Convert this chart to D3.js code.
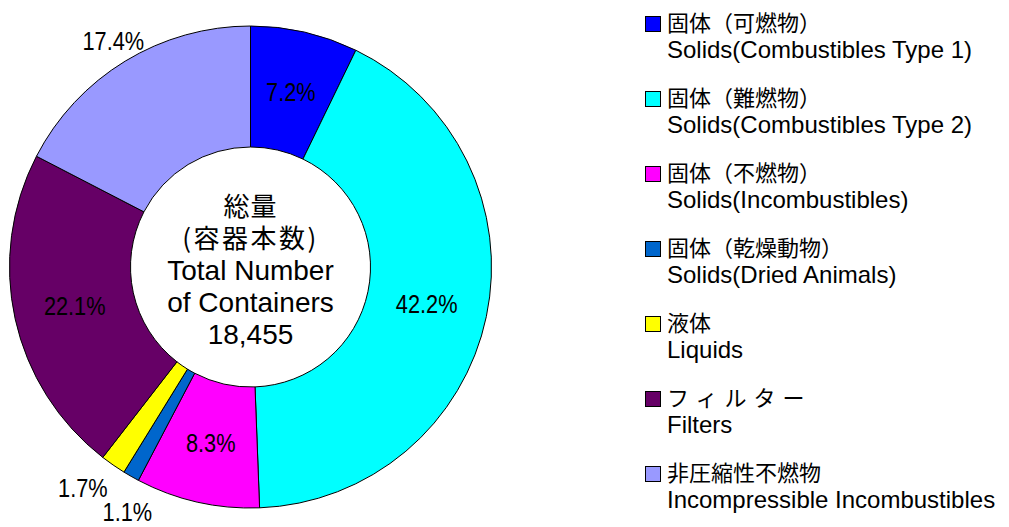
<!DOCTYPE html>
<html>
<head>
<meta charset="utf-8">
<script src="https://cdn.jsdelivr.net/npm/d3@7"></script>
<style>
  body { margin: 0; background: #fff; }
  svg { display: block; }
  .pct { font-family: 'Liberation Sans', Arial, sans-serif; font-size: 25px; }
  .ctr { font-family: 'Liberation Sans', Arial, 'Noto Sans CJK JP', sans-serif; font-size: 28px; }
  .jp { font-family: 'Noto Sans CJK JP', sans-serif; }
  .leg { font-family: 'Liberation Sans', Arial, sans-serif; font-size: 24px; }
</style>
</head>
<body>
<div id="chart"></div>
<script>
// data (share of containers, %)
const categoriesJp = ['固体（可燃物）', '固体（難燃物）', '固体（不燃物）', '固体（乾燥動物）', '液体', 'フィルター', '非圧縮性不燃物'];
const categoriesEn = ['Solids(Combustibles Type 1)', 'Solids(Combustibles Type 2)', 'Solids(Incombustibles)',
  'Solids(Dried Animals)', 'Liquids', 'Filters', 'Incompressible Incombustibles'];
const shares = [7.2, 42.2, 8.3, 1.1, 1.7, 22.1, 17.4];
const colors = ['#0000FF', '#00FFFF', '#FF00FF', '#0066CC', '#FFFF00', '#660066', '#9999FF'];
const centerLines = ['総量', '(容器本数)', 'Total Number', 'of Containers', '18,455'];

// labels of thin slices sit outside the ring (radius, angle nudge in degrees)
const labelOutside = [null, null, null, [274, -3], [277, 2.5], null, [264, 0]];

const W = 1009, H = 527;
const cx = 250.5, cy = 267;
const rOuter = 241, rInner = 120;

const svg = d3.select('#chart').append('svg')
  .attr('width', W)
  .attr('height', H);

const pie = d3.pie().sort(null).value(d => d);
const arcs = pie(shares);

const arc = d3.arc().innerRadius(rInner).outerRadius(rOuter);
const midArc = d3.arc().innerRadius(180).outerRadius(180);

const g = svg.append('g').attr('transform', `translate(${cx},${cy})`);

g.selectAll('path.slice')
  .data(arcs)
  .join('path')
  .attr('class', 'slice')
  .attr('d', arc)
  .attr('fill', (d, i) => colors[i])
  .attr('stroke', '#000')
  .attr('stroke-width', 1);

// percentage labels
g.selectAll('text.pct')
  .data(arcs)
  .join('text')
  .attr('class', 'pct')
  .attr('transform', (d, i) => {
    let pos = midArc.centroid(d);
    const out = labelOutside[i];
    if (out) {
      const a = (d.startAngle + d.endAngle) / 2 + out[1] * Math.PI / 180;
      pos = [out[0] * Math.sin(a), -out[0] * Math.cos(a)];
    }
    return `translate(${pos}) scale(0.87,1)`;
  })
  .attr('text-anchor', 'middle')
  .attr('dy', '0.36em')
  .text(d => d.data.toFixed(1) + '%');

// centre caption
g.selectAll('text.ctr')
  .data(centerLines)
  .join('text')
  .attr('class', (d, i) => i < 2 ? 'ctr jp' : 'ctr')
  .attr('x', 0)
  .attr('y', (d, i) => -51 + i * 32)
  .attr('text-anchor', 'middle')
  .style('font-size', (d, i) => i < 2 ? '26px' : null)
  .style('letter-spacing', (d, i) => i === 1 ? '2.5px' : (i === 0 ? '1px' : null))
  .text(d => d);

// legend
const legend = svg.append('g').attr('transform', 'translate(645,0)');
const item = legend.selectAll('g')
  .data(categoriesJp)
  .join('g')
  .attr('transform', (d, i) => `translate(0,${31 + i * 75})`);

item.append('rect')
  .attr('x', 0.5)
  .attr('y', -14.5)
  .attr('width', 15)
  .attr('height', 15)
  .attr('fill', (d, i) => colors[i])
  .attr('stroke', '#000')
  .attr('stroke-width', 1);

item.append('text')
  .attr('class', 'jp')
  .attr('x', 22)
  .attr('y', 0)
  .style('font-size', '22px')
  .style('letter-spacing', d => d === 'フィルター' ? '7px' : null)
  .text(d => d);

item.append('text')
  .attr('class', 'leg')
  .attr('x', 22)
  .attr('y', 27)
  .text((d, i) => categoriesEn[i]);
</script>
</body>
</html>
